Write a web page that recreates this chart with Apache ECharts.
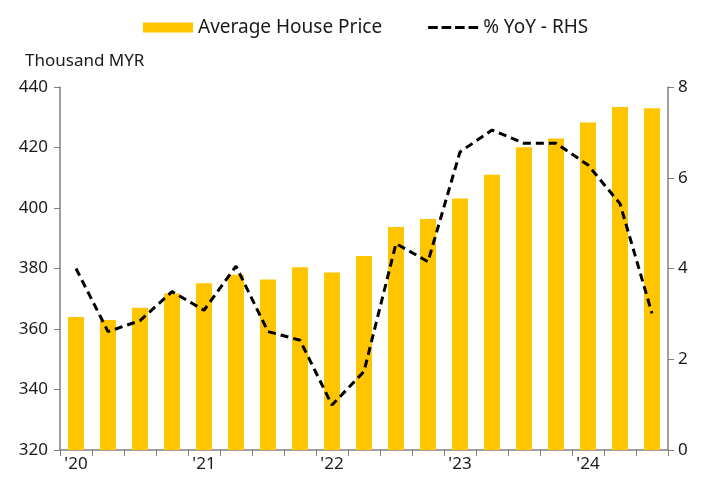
<!DOCTYPE html>
<html>
<head>
<meta charset="utf-8">
<script src="https://cdn.jsdelivr.net/npm/echarts@6/dist/echarts.min.js"></script>
<style>
  html, body { margin: 0; padding: 0; background: #fff; }
  #chart { width: 702px; height: 485px; }
</style>
</head>
<body>
<div id="chart"></div>
<script>
// quarterly, Q1 2020 .. Q3 2024
const quarters = [
  '2020Q1', '2020Q2', '2020Q3', '2020Q4',
  '2021Q1', '2021Q2', '2021Q3', '2021Q4',
  '2022Q1', '2022Q2', '2022Q3', '2022Q4',
  '2023Q1', '2023Q2', '2023Q3', '2023Q4',
  '2024Q1', '2024Q2', '2024Q3'
]
const yearLabels = { '2020Q1': "'20", '2021Q1': "'21", '2022Q1': "'22", '2023Q1': "'23", '2024Q1': "'24" }
const housePrice = [364, 363, 367, 371.7, 375.1, 377.9, 376.4, 380.4, 378.7, 384.1,
  393.7, 396.4, 403.1, 411, 420.1, 423, 428.3, 433.4, 433]
const yoy = [4.0, 2.61, 2.85, 3.49, 3.08, 4.05, 2.61, 2.42, 0.99, 1.73,
  4.55, 4.15, 6.57, 7.05, 6.76, 6.76, 6.28, 5.43, 3.01]

const font = 'Noto Sans'
const axisGray = '#808080'
const txt = '#1a1a1a'
// legend icon for the dashed line (4 dashes)
const dashIcon = 'path://M0,0h10v3h-10z M14,0h10v3h-10z M28,0h10v3h-10z M42,0h10v3h-10z'

const myChart = echarts.init(document.getElementById('chart'))
myChart.setOption({
  animation: false,
  textStyle: { fontFamily: font },
  legend: {
    top: 13,
    left: 138,
    itemGap: 46,
    itemWidth: 50,
    itemHeight: 10,
    textStyle: { fontSize: 19, color: txt, fontFamily: font },
    data: [
      { name: 'Average House Price', icon: 'rect' },
      { name: '% YoY - RHS', icon: dashIcon, itemStyle: { color: '#000' } }
    ]
  },
  grid: { left: 60, right: 34, top: 87, bottom: 35 },
  xAxis: {
    type: 'category',
    data: quarters,
    boundaryGap: true,
    axisLine: { lineStyle: { color: axisGray, width: 1.5 } },
    axisTick: { show: true, interval: 0, length: 6, lineStyle: { color: axisGray } },
    axisLabel: {
      interval: 0,
      color: txt,
      fontSize: 17,
      margin: 6,
      formatter: v => yearLabels[v] || ''
    }
  },
  yAxis: [
    {
      type: 'value',
      name: 'Thousand MYR',
      nameLocation: 'end',
      nameGap: 17,
      nameTextStyle: { fontSize: 17, color: txt, align: 'left', padding: [0, 0, 0, -35] },
      min: 320,
      max: 440,
      interval: 20,
      splitLine: { show: false },
      axisLine: { show: true, lineStyle: { color: axisGray, width: 1.5 } },
      axisTick: { show: true, length: 6, lineStyle: { color: axisGray } },
      axisLabel: { color: txt, fontSize: 17, margin: 12 }
    },
    {
      type: 'value',
      min: 0,
      max: 8,
      interval: 2,
      splitLine: { show: false },
      axisLine: { show: true, lineStyle: { color: axisGray, width: 1.5 } },
      axisTick: { show: true, length: 6, lineStyle: { color: axisGray } },
      axisLabel: { color: txt, fontSize: 17, margin: 10 }
    }
  ],
  series: [
    {
      name: 'Average House Price',
      type: 'bar',
      yAxisIndex: 0,
      barWidth: '50%',
      itemStyle: { color: '#FFC600' },
      data: housePrice
    },
    {
      name: '% YoY - RHS',
      type: 'line',
      yAxisIndex: 1,
      symbol: 'none',
      itemStyle: { color: '#000' },
      lineStyle: { color: '#000', width: 3, type: [8, 5] },
      data: yoy
    }
  ]
})
</script>
</body>
</html>
